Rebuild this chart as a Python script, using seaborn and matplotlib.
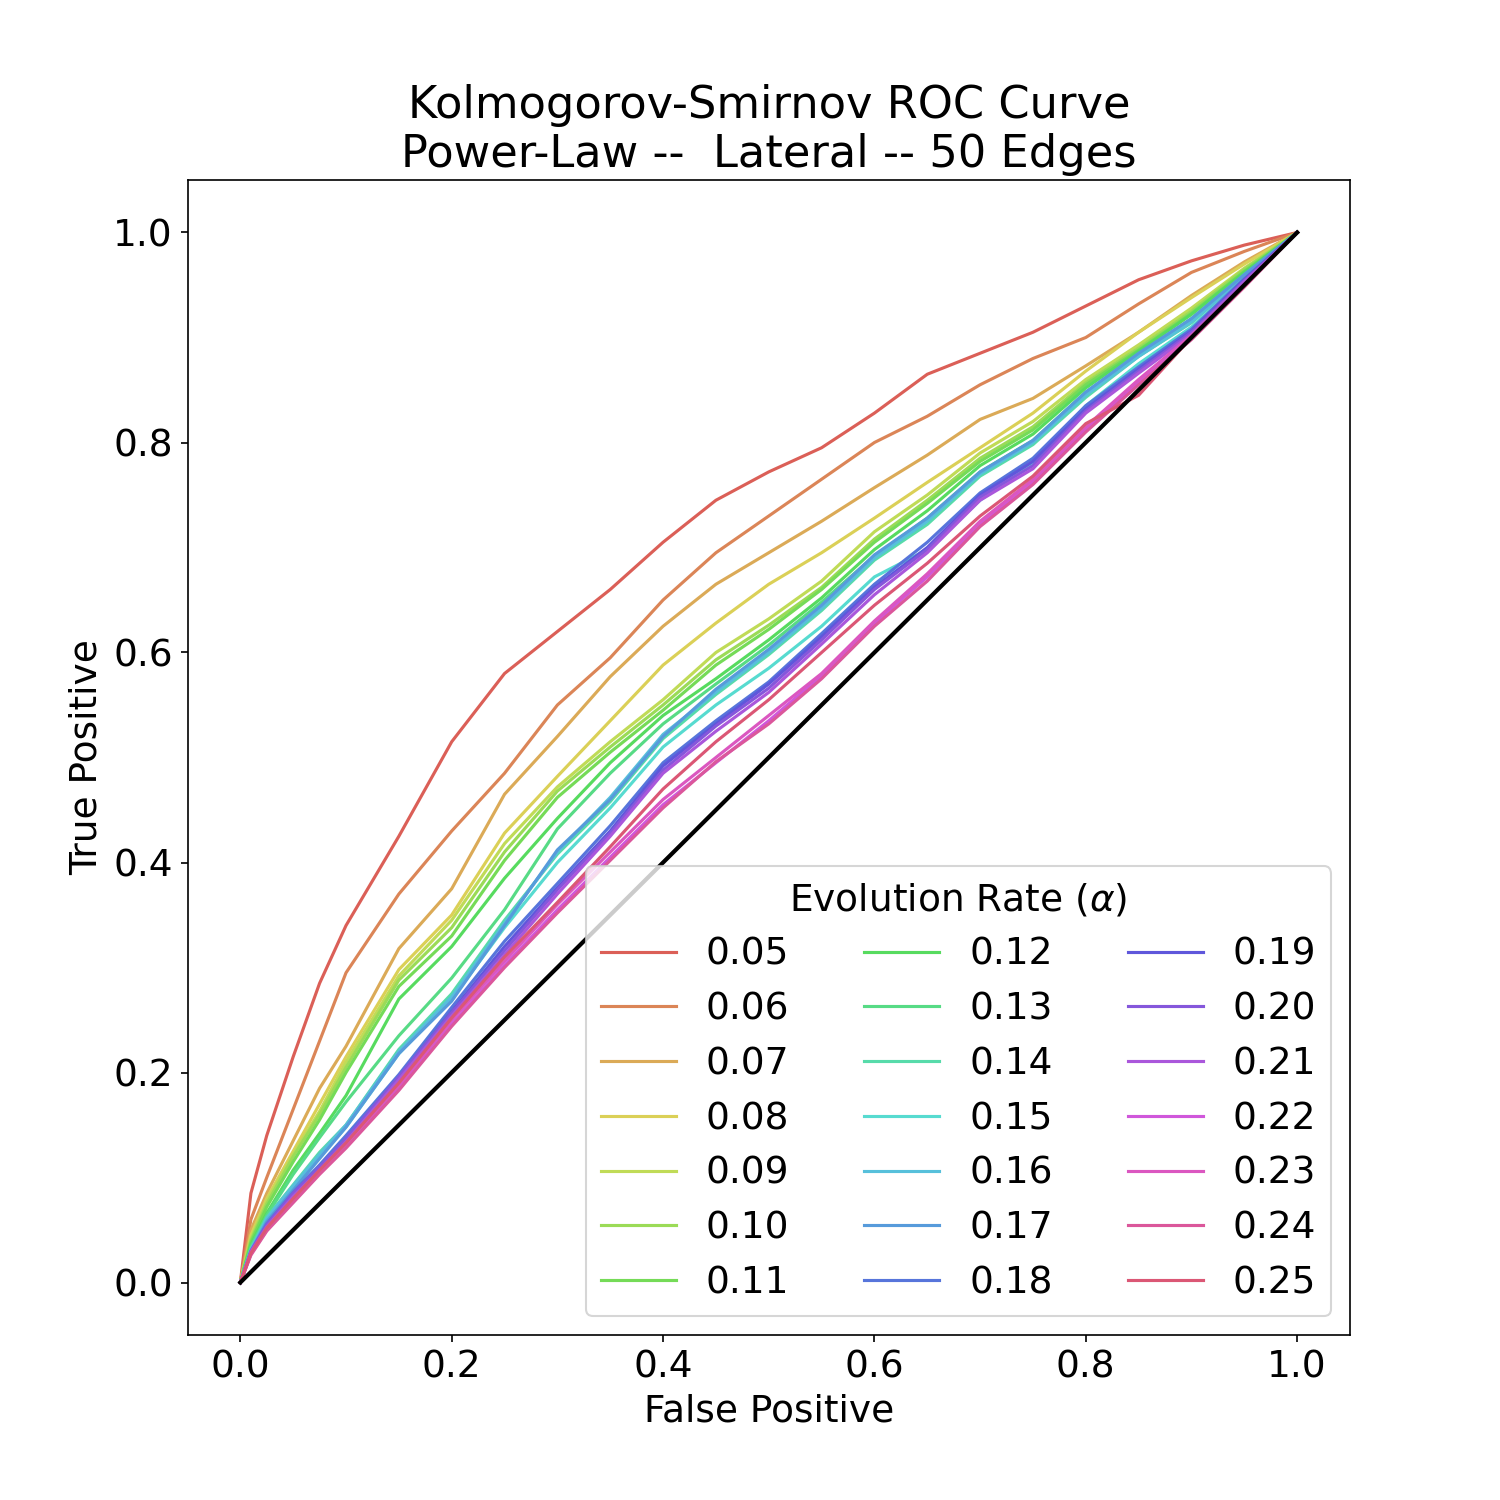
import matplotlib
matplotlib.use("Agg")
import matplotlib.pyplot as plt
import seaborn as sns
import pandas as pd

plt.rcParams['font.family'] = ['DejaVu Sans']
plt.rcParams['font.size'] = 18

rates = ["0.05", "0.06", "0.07", "0.08", "0.09", "0.10", "0.11", "0.12", "0.13", "0.14",
         "0.15", "0.16", "0.17", "0.18", "0.19", "0.20", "0.21", "0.22", "0.23", "0.24", "0.25"]

fp = [0, .01, .025, .05, .075, .1, .15, .2, .25, .3, .35, .4, .45, .5, .55, .6, .65, .7, .75, .8, .85, .9, .95, 1]

tp_005 = [0, .085, .14, .215, .285, .34, .425, .515, .58, .62, .66, .705, .745, .772, .795, .828, .865, .885, .905, .93, .955, .973, .988, 1]
tp_006 = [0, .06, .10, .165, .23, .295, .37, .43, .485, .55, .595, .65, .695, .73, .765, .80, .825, .855, .88, .90, .932, .962, .982, 1]
tp_007 = [0, .05, .085, .135, .185, .225, .318, .375, .465, .52, .577, .625, .665, .695, .725, .757, .788, .822, .842, .873, .905, .94, .972, 1]
tp_008 = [0, .045, .08, .125, .17, .215, .298, .35, .428, .482, .535, .588, .628, .665, .695, .728, .762, .795, .828, .868, .905, .938, .97, 1]
tp_009 = [0, .042, .078, .122, .163, .21, .292, .345, .418, .472, .515, .555, .60, .632, .668, .715, .75, .79, .82, .86, .893, .928, .966, 1]
tp_010 = [0, .04, .075, .12, .16, .205, .288, .338, .41, .468, .51, .55, .593, .626, .662, .708, .745, .785, .815, .857, .89, .925, .965, 1]
tp_011 = [0, .038, .072, .115, .155, .20, .282, .33, .402, .462, .505, .545, .588, .622, .66, .705, .742, .782, .812, .855, .888, .923, .963, 1]
tp_012 = [0, .036, .066, .107, .142, .178, .27, .32, .385, .442, .495, .54, .575, .612, .652, .698, .735, .778, .808, .852, .887, .922, .962, 1]
tp_013 = [0, .034, .064, .103, .138, .172, .235, .29, .355, .432, .485, .532, .57, .607, .648, .692, .728, .772, .802, .848, .883, .918, .96, 1]
tp_014 = [0, .032, .062, .093, .124, .15, .222, .275, .345, .408, .458, .518, .56, .598, .64, .688, .722, .768, .798, .843, .882, .914, .958, 1]
tp_015 = [0, .03, .06, .09, .12, .148, .218, .27, .338, .40, .452, .51, .55, .585, .625, .672, .698, .745, .78, .835, .875, .91, .955, 1]
tp_016 = [0, .031, .061, .092, .122, .15, .22, .272, .342, .41, .462, .522, .562, .60, .642, .69, .725, .77, .80, .845, .882, .915, .958, 1]
tp_017 = [0, .03, .058, .088, .118, .148, .218, .268, .34, .412, .46, .52, .565, .603, .645, .693, .728, .772, .802, .848, .885, .918, .96, 1]
tp_018 = [0, .029, .056, .086, .112, .14, .198, .262, .325, .38, .435, .495, .535, .572, .618, .665, .705, .752, .785, .835, .872, .908, .956, 1]
tp_019 = [0, .028, .054, .084, .108, .136, .195, .258, .32, .376, .43, .492, .532, .57, .615, .662, .70, .75, .782, .832, .87, .906, .955, 1]
tp_020 = [0, .03, .055, .085, .11, .137, .196, .257, .316, .374, .428, .488, .53, .566, .612, .66, .698, .748, .778, .83, .868, .905, .954, 1]
tp_021 = [0, .029, .053, .082, .107, .134, .193, .254, .312, .37, .425, .485, .525, .562, .608, .655, .695, .745, .775, .828, .866, .903, .953, 1]
tp_022 = [0, .027, .05, .077, .104, .13, .185, .246, .302, .355, .405, .455, .495, .535, .578, .628, .672, .722, .762, .812, .858, .90, .95, 1]
tp_023 = [0, .028, .051, .079, .106, .132, .188, .25, .306, .36, .41, .46, .50, .54, .58, .63, .675, .725, .765, .815, .86, .902, .95, 1]
tp_024 = [0, .026, .049, .076, .103, .128, .183, .244, .30, .352, .402, .452, .496, .532, .575, .625, .668, .72, .76, .81, .855, .898, .948, 1]
tp_025 = [0, .028, .052, .08, .107, .133, .19, .252, .31, .362, .415, .47, .515, .555, .60, .645, .685, .73, .768, .818, .845, .90, .95, 1]

tp_all = [tp_005, tp_006, tp_007, tp_008, tp_009, tp_010, tp_011, tp_012, tp_013, tp_014,
          tp_015, tp_016, tp_017, tp_018, tp_019, tp_020, tp_021, tp_022, tp_023, tp_024, tp_025]

diag = [0, 1]

rows = []
for r, tps in zip(rates, tp_all):
    for x, y in zip(fp, tps):
        rows.append({"False Positive": x, "True Positive": y, "rate": r})
df = pd.DataFrame(rows)

pal = sns.color_palette("hls", len(rates))

fig, ax = plt.subplots(figsize=(10, 10), dpi=150)
sns.lineplot(data=df, x="False Positive", y="True Positive", hue="rate",
             hue_order=rates, palette=pal, linewidth=1.5, estimator=None,
             sort=False, ax=ax)
ax.plot(diag, diag, color="black", linewidth=2)

handles, labels = ax.get_legend_handles_labels()
ax.legend(handles[:len(rates)], labels[:len(rates)], title="Evolution Rate ($\\alpha$)",
          ncol=3, loc="lower right", fontsize=18, title_fontsize=18)

ax.set_title("Kolmogorov-Smirnov ROC Curve\nPower-Law --  Lateral -- 50 Edges", fontsize=21.5)
ax.set_xlabel("False Positive", fontsize=18)
ax.set_ylabel("True Positive", fontsize=18)
ax.tick_params(labelsize=18)

fig.savefig("out.png", dpi=150)
